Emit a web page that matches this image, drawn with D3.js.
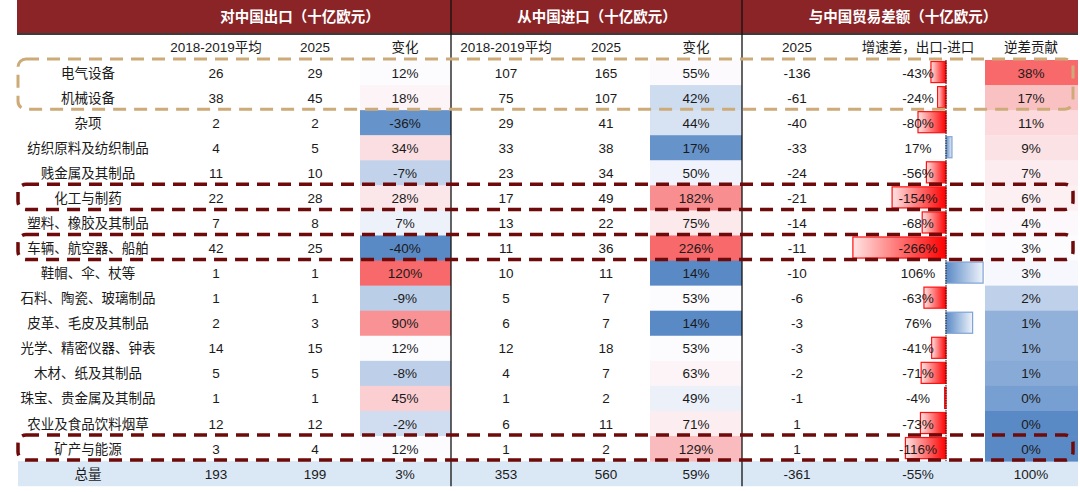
<!DOCTYPE html>
<html>
<head>
<meta charset="utf-8">
<script src="https://cdn.jsdelivr.net/npm/d3@7"></script>
<style>
  body { margin: 0; background: #fff; }
  svg text { font-family: "Liberation Sans", "Noto Sans CJK SC", sans-serif; }
</style>
</head>
<body>
<div id="chart"></div>
<script>
// ---- data ----
const categories = ["电气设备", "机械设备", "杂项", "纺织原料及纺织制品", "贱金属及其制品", "化工与制药",
    "塑料、橡胶及其制品", "车辆、航空器、船舶", "鞋帽、伞、杖等", "石料、陶瓷、玻璃制品", "皮革、毛皮及其制品",
    "光学、精密仪器、钟表", "木材、纸及其制品", "珠宝、贵金属及其制品", "农业及食品饮料烟草", "矿产与能源"];
const exportBase = [26, 38, 2, 4, 11, 22, 7, 42, 1, 1, 2, 14, 5, 1, 12, 3];
const export2025 = [29, 45, 2, 5, 10, 28, 8, 25, 1, 1, 3, 15, 5, 1, 12, 4];
const exportChange = [12, 18, -36, 34, -7, 28, 7, -40, 120, -9, 90, 12, -8, 45, -2, 12];
const importBase = [107, 75, 29, 33, 23, 17, 13, 11, 10, 5, 6, 12, 4, 1, 6, 1];
const import2025 = [165, 107, 41, 38, 34, 49, 22, 36, 11, 7, 7, 18, 7, 2, 11, 2];
const importChange = [55, 42, 44, 17, 50, 182, 75, 226, 14, 53, 14, 53, 63, 49, 71, 129];
const balance2025 = [-136, -61, -40, -33, -24, -21, -14, -11, -10, -6, -3, -3, -2, -1, 1, 1];
const growthGap = [-43, -24, -80, 17, -56, -154, -68, -266, 106, -63, 76, -41, -71, -4, -73, -116];
const deficitShare = [37.7, 16.9, 11.1, 9.1, 6.6, 5.8, 3.9, 3.0, 2.8, 1.7, 0.8, 0.8, 0.6, 0.3, -0.3, -0.3];
const totalRow = ["总量", "193", "199", "3%", "353", "560", "59%", "-361", "-55%", "100%"];

const groupTitles = ["对中国出口（十亿欧元）", "从中国进口（十亿欧元）", "与中国贸易差额（十亿欧元）"];
const subHeaders = ["2018-2019平均", "2025", "变化", "2018-2019平均", "2025", "变化", "2025", "增速差，出口-进口", "逆差贡献"];
const highlights = [
    { rows: [0, 1], color: "#CDAB78", width: 3 },
    { rows: [5, 5], color: "#6E0A0A", width: 3.5 },
    { rows: [7, 7], color: "#6E0A0A", width: 3.5 },
    { rows: [15, 15], color: "#6E0A0A", width: 3.5 }
];

// ---- layout ----
const W = 1080, H = 492;
const left = 17, right = 1078;
const colX = { cat: 88, eb: 216, en: 315, ec: 405, ib: 506, in: 606, ic: 696, bn: 797, gg: 918, ds: 1031 };
const cellX = { ec: [360, 451], ic: [650, 742], ds: [985, 1078] };
const sepX = [451, 742];
const axisX = 946;

const svg = d3.select("#chart").append("svg")
    .attr("width", W)
    .attr("height", H);

const defs = svg.append("defs");
const redGrad = defs.append("linearGradient").attr("id", "redGrad").attr("x1", 0).attr("x2", 1).attr("y1", 0).attr("y2", 0);
redGrad.append("stop").attr("offset", "0%").attr("stop-color", "#FFE4E4");
redGrad.append("stop").attr("offset", "100%").attr("stop-color", "#FF0000");
const blueGrad = defs.append("linearGradient").attr("id", "blueGrad").attr("x1", 0).attr("x2", 1).attr("y1", 0).attr("y2", 0);
blueGrad.append("stop").attr("offset", "0%").attr("stop-color", "#5A8AC6");
blueGrad.append("stop").attr("offset", "100%").attr("stop-color", "#EEF3FA");

// rows: 16 categories + total
const y = d3.scaleBand()
    .domain(d3.range(17))
    .range([60, 60 + 17 * 25.07]);
const bw = y.bandwidth();

// bar scale for growth gap
const xBar = d3.scaleLinear().domain([-100, 100]).range([axisX - 35, axisX + 35]);

// Excel style 3-colour scales (min / median / max)
function colorScale(vals) {
    return d3.scaleLinear()
        .domain([d3.min(vals), d3.median(vals), d3.max(vals)])
        .range(["#5A8AC6", "#FCFCFF", "#F8696B"]);
}
const cExp = colorScale(exportChange);
const cImp = colorScale(importChange);
const cShare = colorScale(deficitShare);

// header band
svg.append("rect")
    .attr("x", left).attr("y", 0)
    .attr("width", right - left).attr("height", 33)
    .attr("fill", "#8B2427");
svg.append("rect")
    .attr("x", left).attr("y", 33)
    .attr("width", right - left).attr("height", 2)
    .attr("fill", "#3C3C3C");

svg.selectAll(".group-title")
    .data(groupTitles)
    .enter().append("text")
    .attr("class", "group-title")
    .attr("x", (d, i) => [300, 597, 903][i])
    .attr("y", 22)
    .attr("text-anchor", "middle")
    .attr("fill", "#fff")
    .attr("font-size", 14.5)
    .attr("font-weight", "bold")
    .text(d => d);

const subCols = ["eb", "en", "ec", "ib", "in", "ic", "bn", "gg", "ds"];
svg.selectAll(".sub-header")
    .data(subHeaders)
    .enter().append("text")
    .attr("class", "sub-header")
    .attr("x", (d, i) => colX[subCols[i]])
    .attr("y", 52)
    .attr("text-anchor", "middle")
    .attr("fill", "#1a1a1a")
    .attr("font-size", 13.5)
    .text(d => d);

// total row background
svg.append("rect")
    .attr("x", left + 1).attr("y", y(16))
    .attr("width", right - left - 1).attr("height", bw)
    .attr("fill", "#DAE8F6");

// coloured cells
function drawCells(cls, vals, scale, range) {
    svg.selectAll("." + cls)
        .data(vals)
        .enter().append("rect")
        .attr("class", cls)
        .attr("x", range[0])
        .attr("y", (d, i) => y(i))
        .attr("width", range[1] - range[0])
        .attr("height", bw + 0.5)
        .attr("fill", d => scale(d));
}
drawCells("cell-exp", exportChange, cExp, cellX.ec);
drawCells("cell-imp", importChange, cImp, cellX.ic);
drawCells("cell-share", deficitShare, cShare, cellX.ds);

// data bars (growth gap)
svg.selectAll(".gap-bar")
    .data(growthGap)
    .enter().append("rect")
    .attr("class", "gap-bar")
    .attr("x", d => Math.min(xBar(d), xBar(0)))
    .attr("y", (d, i) => y(i) + 1.5)
    .attr("width", d => Math.abs(xBar(d) - xBar(0)))
    .attr("height", bw - 4)
    .attr("fill", d => d < 0 ? "url(#redGrad)" : "url(#blueGrad)")
    .attr("stroke", d => d < 0 ? "#FF1010" : "#7FA3D6")
    .attr("stroke-width", 1.2);

svg.append("line")
    .attr("x1", axisX).attr("x2", axisX)
    .attr("y1", y(0)).attr("y2", y(16))
    .attr("stroke", "#111")
    .attr("stroke-width", 1)
    .attr("stroke-dasharray", "1.5,1");

// separators
svg.selectAll(".sep")
    .data(sepX)
    .enter().append("line")
    .attr("class", "sep")
    .attr("x1", d => d).attr("x2", d => d)
    .attr("y1", 0).attr("y2", y(16) + bw)
    .attr("stroke", "#111")
    .attr("stroke-width", 1.3);

// text columns
const pct = v => v + "%";
const shareFmt = v => (Math.round(v) === 0 ? 0 : Math.round(v)) + "%";
const columns = [
    { key: "cat", vals: categories, fmt: d => d },
    { key: "eb", vals: exportBase, fmt: d => d },
    { key: "en", vals: export2025, fmt: d => d },
    { key: "ec", vals: exportChange, fmt: pct },
    { key: "ib", vals: importBase, fmt: d => d },
    { key: "in", vals: import2025, fmt: d => d },
    { key: "ic", vals: importChange, fmt: pct },
    { key: "bn", vals: balance2025, fmt: d => d },
    { key: "gg", vals: growthGap, fmt: pct },
    { key: "ds", vals: deficitShare, fmt: shareFmt }
];

columns.forEach(function (col, ci) {
    const rows = col.vals.map(col.fmt).concat([totalRow[ci]]);
    svg.selectAll(".txt-" + col.key)
        .data(rows)
        .enter().append("text")
        .attr("class", "txt-" + col.key)
        .attr("x", colX[col.key])
        .attr("y", (d, i) => y(i) + bw / 2 + 5)
        .attr("text-anchor", "middle")
        .attr("fill", "#1a1a1a")
        .attr("font-size", 13.5)
        .text(d => d);
});

// dashed highlight boxes
svg.selectAll(".hl")
    .data(highlights)
    .enter().append("rect")
    .attr("class", "hl")
    .attr("x", left + 1)
    .attr("y", d => y(d.rows[0]) - 1)
    .attr("width", 1073 - left - 1)
    .attr("height", d => y(d.rows[1]) + bw - y(d.rows[0]))
    .attr("rx", 8)
    .attr("fill", "none")
    .attr("stroke", d => d.color)
    .attr("stroke-width", d => d.width)
    .attr("stroke-dasharray", "13,8");
</script>
</body>
</html>
